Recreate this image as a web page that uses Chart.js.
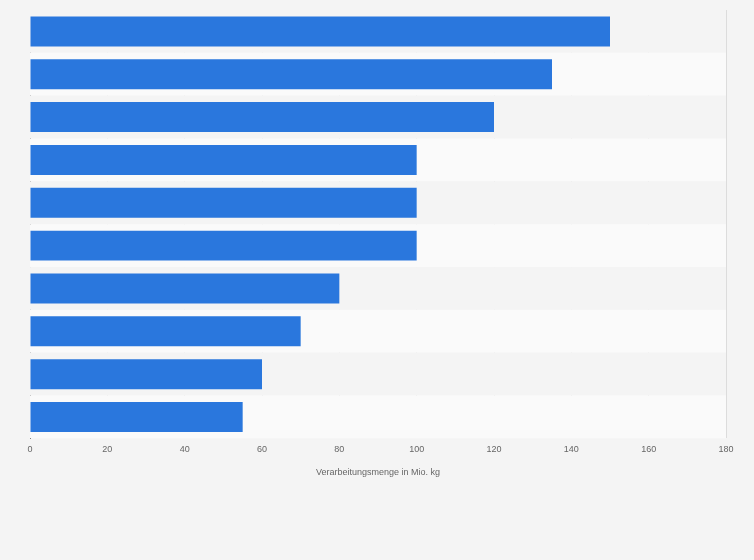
<!DOCTYPE html>
<html>
<head>
<meta charset="utf-8">
<script src="https://cdn.jsdelivr.net/npm/chart.js@4/dist/chart.umd.min.js"></script>
<style>
  html, body { margin: 0; padding: 0; background: #f4f4f4; }
  #wrap { width: 754px; height: 560px; }
</style>
</head>
<body>
<div id="wrap"><canvas id="c"></canvas></div>
<script>
// categories are not shown in the picture
const categories = ['1', '2', '3', '4', '5', '6', '7', '8', '9', '10'];
const values = [150, 135, 120, 100, 100, 100, 80, 70, 60, 55];
const axisTitle = 'Verarbeitungsmenge in Mio. kg';

// alternating row stripes behind the bars
const rowStripes = {
    id: 'rowStripes',
    beforeDatasetsDraw(chart) {
        const { ctx, chartArea, scales } = chart;
        const y = scales.y;
        ctx.save();
        categories.forEach((c, i) => {
            const mid = y.getPixelForValue(i);
            const half = (y.getPixelForValue(1) - y.getPixelForValue(0)) / 2;
            ctx.fillStyle = i % 2 === 0 ? '#f4f4f4' : '#fafafa';
            ctx.fillRect(chartArea.left, mid - half, chartArea.right - chartArea.left, half * 2);
        });
        ctx.restore();
    }
};

new Chart(document.getElementById('c').getContext('2d'), {
    type: 'bar',
    data: {
        labels: categories,
        datasets: [{
            data: values,
            backgroundColor: '#2a77dd',
            categoryPercentage: 0.7,
            barPercentage: 1
        }]
    },
    options: {
        indexAxis: 'y',
        responsive: true, maintainAspectRatio: false,
        animation: false,
        layout: { padding: { left: 0, right: 28, top: 10, bottom: 78 } },
        plugins: { legend: { display: false }, tooltip: { enabled: false } },
        scales: {
            x: {
                min: 0, max: 180,
                ticks: { stepSize: 20, color: '#666', font: { size: 9, family: 'Arial, Liberation Sans' }, padding: 6 },
                grid: { color: '#dcdcdc', drawTicks: false },
                border: { display: false },
                title: { display: true, text: axisTitle, color: '#666', font: { size: 9, family: 'Arial, Liberation Sans' }, padding: { top: 6 } }
            },
            y: {
                ticks: { display: false },
                grid: { display: false },
                border: { display: true, color: '#333', width: 1 },
                afterFit(s) { s.width = 30; }
            }
        }
    },
    plugins: [rowStripes]
});
</script>
</body>
</html>
